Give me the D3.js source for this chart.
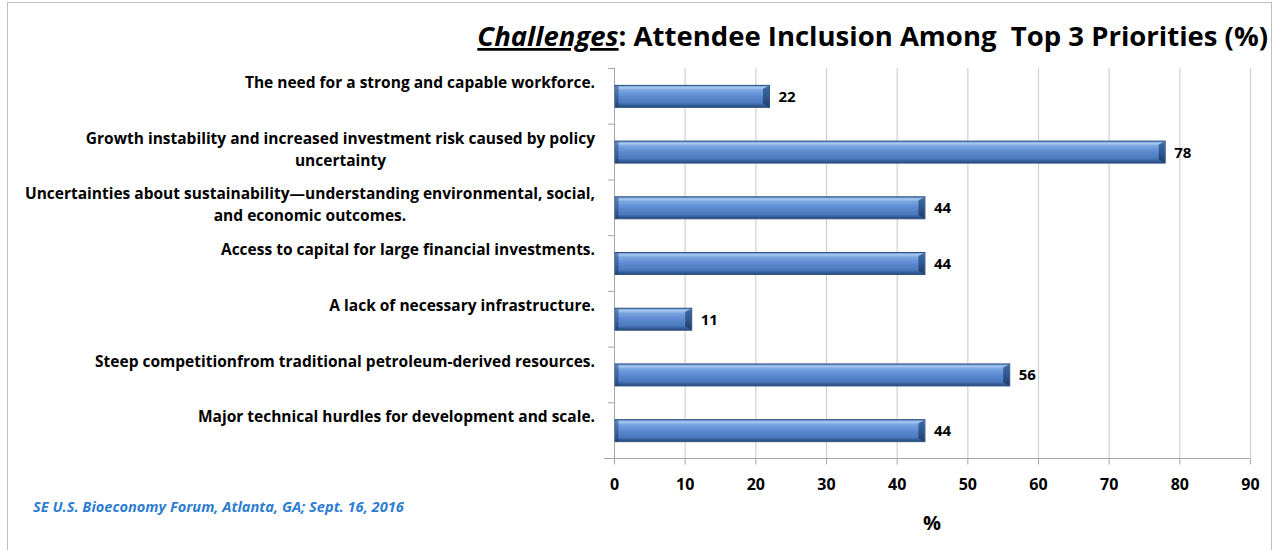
<!DOCTYPE html>
<html><head><meta charset="utf-8">
<script src="https://cdn.jsdelivr.net/npm/d3@7"></script>
<style>
body{margin:0;background:#fff;}
svg{display:block;font-family:"Open Sans",Lato,sans-serif;}
text{white-space:pre;}
</style></head>
<body>
<script>
const categories = [
  ["The need for a strong and capable workforce."],
  ["Growth instability and increased investment risk caused by policy", "uncertainty"],
  ["Uncertainties about sustainability\u2014understanding environmental, social,", "and economic outcomes."],
  ["Access to capital for large financial investments."],
  ["A lack of necessary infrastructure."],
  ["Steep competitionfrom traditional petroleum-derived resources."],
  ["Major technical hurdles for development and scale."]
];
const values = [22, 78, 44, 44, 11, 56, 44];
const xTicks = [0,10,20,30,40,50,60,70,80,90];
const titleItalic = "Challenges";
const titleRest = ": Attendee Inclusion Among  Top 3 Priorities (%)";
const xTitle = "%";
const footnote = "SE U.S. Bioeconomy Forum, Atlanta, GA; Sept. 16, 2016";

const W = 1276, H = 550;
const m = {left: 614, right: 1250, top: 68, bottom: 458};
const svg = d3.select("body").append("svg").attr("width", W).attr("height", H);

// frame
svg.append("rect").attr("x",7.5).attr("y",2.5).attr("width",1264).attr("height",560)
  .attr("fill","none").attr("stroke","#bfbfbf").attr("stroke-width",1);

const defs = svg.append("defs");
const g = defs.append("linearGradient").attr("id","barGrad").attr("x1",0).attr("y1",0).attr("x2",0).attr("y2",1);
[[0,"#5a88c8"],[0.1,"#a9c8ef"],[0.22,"#7aa5e0"],[0.5,"#5b8ad0"],[0.8,"#4a79be"],[0.9,"#35609c"],[1,"#284877"]]
  .forEach(([o,c])=>g.append("stop").attr("offset",o).attr("stop-color",c));
const gc = defs.append("linearGradient").attr("id","capGrad").attr("x1",0).attr("y1",0).attr("x2",0).attr("y2",1);
[[0,"#3f6aa6"],[0.5,"#30578e"],[1,"#1f3c66"]].forEach(([o,c])=>gc.append("stop").attr("offset",o).attr("stop-color",c));

const x = d3.scaleLinear().domain([0,90]).range([m.left, m.right]);
const y = d3.scaleBand().domain(d3.range(categories.length)).range([m.top, m.bottom]).paddingInner(0).paddingOuter(0);

// gridlines
svg.append("g").selectAll("line").data(xTicks.slice(1)).join("line")
  .attr("x1",d=>x(d)+0.5).attr("x2",d=>x(d)+0.5).attr("y1",m.top).attr("y2",m.bottom)
  .attr("stroke","#d0d0d0").attr("stroke-width",1.2);

// x axis
const xa = svg.append("g").attr("transform",`translate(0,${m.bottom+0.5})`)
  .call(d3.axisBottom(x).tickValues(xTicks).tickSize(6).tickPadding(14));
xa.select(".domain").attr("stroke","#a6a6a6").attr("d",`M${m.left-10},0H${m.right}`);
xa.selectAll(".tick line").attr("stroke","#a6a6a6");
xa.selectAll("text").attr("font-size",16).attr("font-weight","bold").attr("fill","#000")
  .attr("font-family","'Open Sans',sans-serif");

// y axis line + boundary ticks
svg.append("line").attr("x1",m.left+0.5).attr("x2",m.left+0.5).attr("y1",m.top).attr("y2",m.bottom)
  .attr("stroke","#a6a6a6");
svg.append("g").selectAll("line").data(d3.range(categories.length)).join("line")
  .attr("x1",m.left-6).attr("x2",m.left).attr("y1",d=>y(d)+0.5).attr("y2",d=>y(d)+0.5)
  .attr("stroke","#a6a6a6");

// bars
const bh = 22;
const by = i => y(i)+y.bandwidth()/2-bh/2+0.5;
const bars = svg.append("g").selectAll("g").data(values).join("g");
bars.append("rect").attr("x",x(0)+1).attr("y",(d,i)=>by(i))
  .attr("width",d=>x(d)-x(0)-1).attr("height",bh)
  .attr("fill","url(#barGrad)").attr("stroke","#2f5283").attr("stroke-width",1);
// left bevel
bars.append("rect").attr("x",x(0)+1.5).attr("y",(d,i)=>by(i)+0.5)
  .attr("width",3).attr("height",bh-1).attr("fill","url(#capGrad)").attr("opacity",0.7);
// right end cap
bars.append("path").attr("d",(d,i)=>{
  const xe = x(d)-0.5, y0 = by(i)+0.5, y1 = by(i)+bh-0.5;
  return `M${xe-6},${y0+3}L${xe},${y0}L${xe},${y1}L${xe-6},${y1-3}Z`;
}).attr("fill","url(#capGrad)");

// value labels
bars.append("text").attr("x",d=>x(d)+9).attr("y",(d,i)=>y(i)+y.bandwidth()/2+6)
  .attr("font-size",15).attr("font-weight","bold").attr("fill","#000").text(d=>d);

// category labels
const lab = svg.append("g").selectAll("text").data(categories).join("text")
  .attr("text-anchor","end").attr("font-size",15.5).attr("font-weight","bold").attr("fill","#000")
  .attr("transform",(d,i)=>`translate(${m.left-19},${y(i)+20})`);
lab.each(function(lines){
  const t = d3.select(this);
  lines.forEach((l,k)=>{
    t.append("tspan").attr("x",0).attr("dy",k===0?0:22)
      .attr("text-anchor", k===0?"end":"middle").text(l);
  });
  if(lines.length>1){
    const sp = t.selectAll("tspan").nodes();
    const w0 = sp[0].getComputedTextLength();
    d3.select(sp[1]).attr("x", -w0/2);
  }
});

// x title
svg.append("text").attr("x",(m.left+m.right)/2).attr("y",530).attr("text-anchor","middle")
  .attr("font-size",20).attr("font-weight","bold").text(xTitle);

// title
const tt = svg.append("text").attr("x",1268).attr("y",46).attr("text-anchor","end")
  .attr("font-size",27.5).attr("font-weight","bold").attr("fill","#000");
tt.append("tspan").attr("font-style","italic").attr("text-decoration","underline").text(titleItalic);
tt.append("tspan").text(titleRest);

// footnote
svg.append("text").attr("x",33).attr("y",512).attr("font-size",14.6).attr("font-weight","bold")
  .attr("font-style","italic").attr("fill","#2e7dd1").text(footnote);
</script>
</body></html>
